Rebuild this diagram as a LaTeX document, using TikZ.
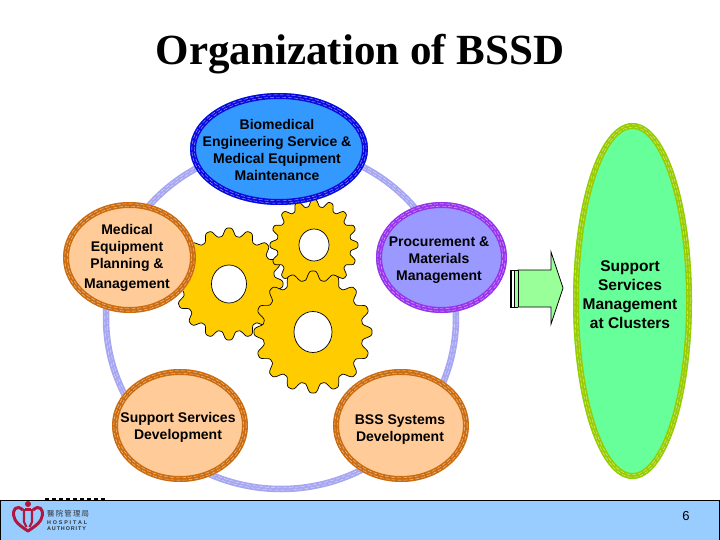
\documentclass[tikz,border=0pt]{standalone}
\usepackage{fontspec}
\setmainfont{Liberation Sans}
\newfontfamily\titlefont{Liberation Serif}
\newfontfamily\cjkfont{Noto Sans CJK TC}
\usetikzlibrary{shapes.geometric}
\definecolor{ringc}{HTML}{A6A6F2}
\definecolor{bluefill}{HTML}{3399FF}
\definecolor{blueedge}{HTML}{0A0AE0}
\definecolor{purplefill}{HTML}{9999FF}
\definecolor{purpleedge}{HTML}{9933EE}
\definecolor{orangefill}{HTML}{FFCC99}
\definecolor{orangeedge}{HTML}{CC6C10}
\definecolor{greenfill}{HTML}{66FF99}
\definecolor{greenedge}{HTML}{99CC00}
\definecolor{gearc}{HTML}{FFCC00}
\definecolor{arrowc}{HTML}{99FF99}
\definecolor{barc}{HTML}{99CCFF}
\definecolor{logoc}{HTML}{B01840}
\tikzset{
 lab/.style={align=center,inner sep=0pt,font=\bfseries\fontsize{14}{17}\selectfont,text=black},
 stripe/.style={white,line width=0.4pt,opacity=0.65,dash pattern=on 4pt off 2pt},
 gearline/.style={draw=black,line width=0.7pt,fill=gearc},
 holeline/.style={draw=black,line width=0.7pt,fill=white},
}
% centre x, centre y, rx, ry, tooth depth
\newcommand{\gearshape}[5]{%
 \draw[gearline] plot[domain=0:360,samples=577,smooth,variable=\t]
  ({#1+(#3-2*#5+#5*(1.5*cos(16*\t)-0.5*pow(cos(16*\t),3)+1))*cos(\t)},
   {#2+(#4-2*#5+#5*(1.5*cos(16*\t)-0.5*pow(cos(16*\t),3)+1))*sin(\t)}) -- cycle;
}
% name, centre, rx, ry, fill, edge, edge width
\newcommand{\ringoval}[8]{%
 \path[fill=#6] (#2,#3) ellipse [x radius=#4,y radius=#5];
 \draw[#7,line width=#8] (#2,#3) ellipse [x radius=#4-#8/2,y radius=#5-#8/2];
 \draw[stripe] (#2,#3) ellipse [x radius=#4-#8/2-1.2,y radius=#5-#8/2-1.2];
 \draw[stripe] (#2,#3) ellipse [x radius=#4-#8/2+1.2,y radius=#5-#8/2+1.2];
 \node[ellipse,inner sep=0pt,minimum width=2*#4,minimum height=2*#5] (#1) at (#2,#3) {};
}
\begin{document}
\begin{tikzpicture}[x=1pt,y=-1pt]
\useasboundingbox (0,0) rectangle (720,540);
\fill[white] (0,0) rectangle (720,540);
% title
\node[inner sep=0pt,font=\titlefont\bfseries\fontsize{43}{46}\selectfont] (title) at (360,54) {Organization of BSSD};
% ring
\draw[ringc,line width=6.5pt] (281,318) ellipse [x radius=175,y radius=171];
\draw[stripe] (281,318) ellipse [x radius=173.8,y radius=169.8];
\draw[stripe] (281,318) ellipse [x radius=176.2,y radius=172.2];
% gears
\gearshape{229}{284}{54}{56}{4}
\draw[holeline] (229,284) ellipse [x radius=17.5,y radius=19];
\gearshape{314}{245}{44}{45.5}{3.5}
\draw[holeline] (314,245) ellipse [x radius=15,y radius=16];
\gearshape{313}{332}{59}{61}{4.5}
\draw[holeline] (313,332) ellipse [x radius=19,y radius=20.5];
% ovals
\ringoval{bio}{279}{149}{89}{56}{bluefill}{blueedge}{6pt}
\ringoval{proc}{441.5}{257.5}{65.5}{55.5}{purplefill}{purpleedge}{6pt}
\ringoval{plan}{129.5}{257.5}{66.5}{55.5}{orangefill}{orangeedge}{6pt}
\ringoval{supp}{180}{425.5}{68}{56.5}{orangefill}{orangeedge}{6pt}
\ringoval{bss}{401}{425.5}{68}{56.5}{orangefill}{orangeedge}{6pt}
\ringoval{clus}{632.5}{301}{59.5}{178}{greenfill}{greenedge}{6pt}
% labels
\node[lab] (tbio) at (277,149.5) {Biomedical\\Engineering Service \&\\Medical Equipment\\Maintenance};
\node[lab] (tproc) at (439,260) {Procurement \&\\Materials\\Management};
\node[lab] (tplan) at (127,258) {Medical\\Equipment\\Planning \&\\[3pt]Management};
\node[lab] (tsupp) at (178,427.5) {Support Services\\Development};
\node[lab] (tbss) at (400,429.5) {BSS Systems\\Development};
\node[lab,font=\bfseries\fontsize{15.5}{19}\selectfont] (tclus) at (630,295) {Support\\Services\\Management\\at Clusters};
% block arrow
\draw[draw=black,line width=0.8pt,fill=arrowc]
 (518,270) -- (551,270) -- (551,252) -- (563,288) -- (551,324) -- (551,307) -- (518,307) -- cycle;
\fill[arrowc] (510,270) rectangle (518,307);
\fill[black] (510,270) rectangle (512,307);
\fill[white] (512,270) rectangle (514,307);
\fill[black] (514,270) rectangle (515,307);
\draw[black,line width=1pt] (518,270) -- (518,307);
\draw[black,line width=0.7pt] (510,270) -- (518,270) (510,307) -- (518,307);
% specks above the bar
\draw[black,line width=1.6pt,dash pattern=on 4pt off 3pt] (45,499) -- (105,499);
% footer
\draw[fill=barc,draw=black,line width=1pt] (0.5,500.5) rectangle (719.5,541);
% logo
\draw[logoc,line width=3pt,line join=round]
 (23,510) .. controls (16,504) and (13,510) .. (13.5,515) .. controls (14,522) and (22,527) .. (28,531)
 .. controls (34,527) and (42,522) .. (42.5,515) .. controls (43,510) and (40,504) .. (33,510);
\fill[logoc] (28,504) circle (3);
\draw[logoc,line width=2.2pt] (24,509) -- (24,522) -- (26.5,527) (32,509) -- (32,522) -- (29.5,527);
\fill[logoc] (25,508) rectangle (31,511);
\node[inner sep=0pt,anchor=west,font=\cjkfont\fontsize{7.4}{8}\selectfont,text=black!80] (lzh) at (47,514) {醫\,院\,管\,理\,局};
\node[inner sep=0pt,anchor=west,font=\bfseries\fontsize{5.4}{6}\selectfont,text=black!80] (lh) at (47,522.5) {H\,\,O\,\,S\,\,P\,\,I\,\,T\,\,A\,\,L};
\node[inner sep=0pt,anchor=west,font=\bfseries\fontsize{5.4}{6}\selectfont,text=black!80] (la) at (47,529) {A\,U\,T\,H\,O\,R\,I\,T\,Y};
\node[inner sep=0pt,font=\fontsize{13}{15}\selectfont] (pg) at (686,516) {6};
\end{tikzpicture}
\end{document}
